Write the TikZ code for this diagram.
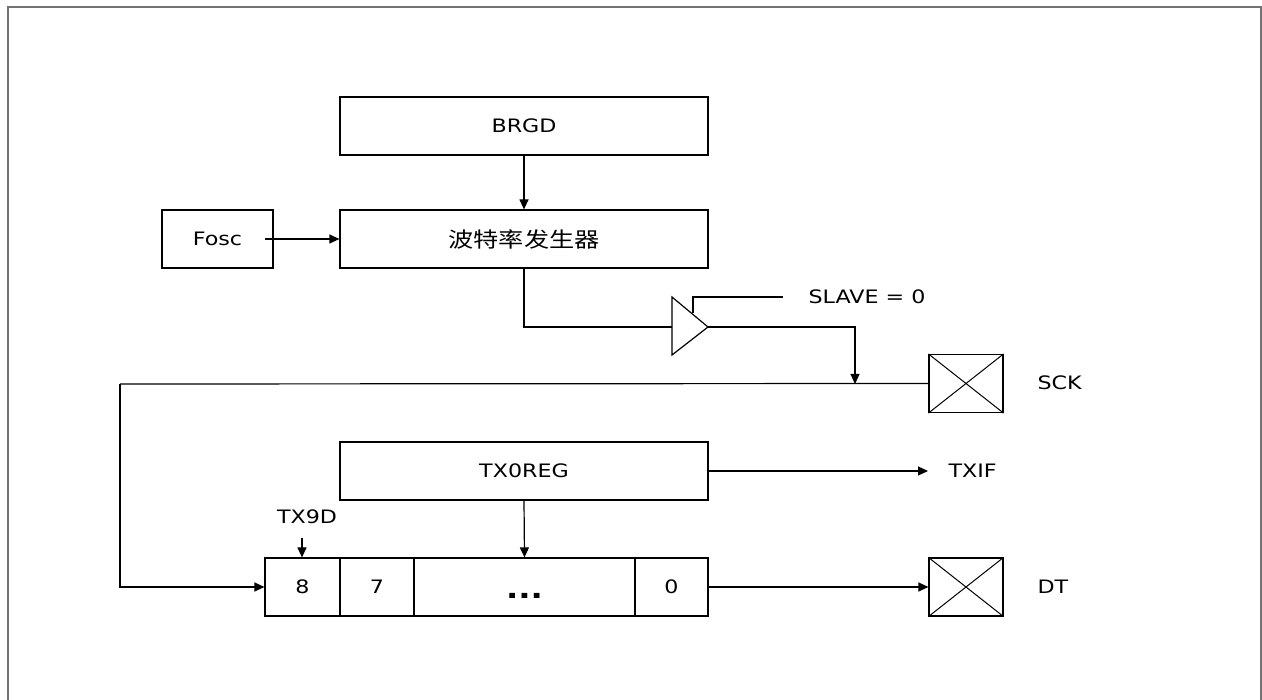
\documentclass[tikz,border=0pt]{standalone}
\usepackage{fontspec}
\setmainfont{DejaVu Sans}[FakeStretch=1.2]
\newfontfamily\cjk{Noto Sans CJK SC}[FakeStretch=1.2]
\usetikzlibrary{arrows.meta}
\begin{document}
\begin{tikzpicture}[x=1pt,y=-1pt,
  line width=1.2pt,
  blk/.style={draw,rectangle,inner sep=0pt,minimum height=58pt,font=\fontsize{18.5}{20}\selectfont},
  lbl/.style={inner sep=0pt,font=\fontsize{18.5}{20}\selectfont},
  arr/.style={-{Triangle[length=10pt,width=9pt]}},
  pad/.style={draw,rectangle,inner sep=0pt,minimum width=74pt,minimum height=58pt},
  frame/.style={draw=black!55,line width=2pt}]
\useasboundingbox (0,0) rectangle (1262,700);
\draw[frame] (8,700) -- (8,7) -- (1261,7) -- (1261,700);
% blocks
\node[blk,minimum width=368pt] (brgd) at (524,126) {BRGD};
\node[blk,minimum width=368pt] (gen) at (524,239) {\cjk\fontsize{21}{24}\selectfont 波特率发生器};
\node[blk,minimum width=111pt] (fosc) at (217.5,239) {Fosc};
\node[blk,minimum width=368pt] (txreg) at (524,471) {TX0REG};
% register cells
\node[blk,minimum width=75pt] (c8) at (302.5,587) {8};
\node[blk,minimum width=74pt] (c7) at (377,587) {7};
\node[blk,minimum width=221pt] (cd) at (524.5,587) {\raisebox{-11pt}[0pt][0pt]{\fontsize{27}{27}\selectfont\bfseries ...}};
\node[blk,minimum width=73pt] (c0) at (671.5,587) {0};
% pads
\node[pad] (sck) at (966,383.5) {};
\draw[line width=1pt] (sck.north west) -- (sck.south east) (sck.south west) -- (sck.north east);
\node[pad] (dt) at (966,587) {};
\draw[line width=1pt] (dt.north west) -- (dt.south east) (dt.south west) -- (dt.north east);
% labels
\node[lbl,anchor=west] (sckl) at (1037,383) {SCK};
\node[lbl,anchor=west] (dtl) at (1037,587) {DT};
\node[lbl,anchor=west] (txif) at (948,471) {TXIF};
\node[lbl,anchor=west] (slave) at (808,297) {SLAVE = 0};
\node[lbl] (tx9d) at (307,517) {TX9D};
% buffer
\coordinate (bufin) at (672,327);
\coordinate (bufout) at (708,327);
\coordinate (en) at (693,313);
\draw (672,297) -- (bufout) -- (672,355) -- cycle;
\draw (en) -- (693,297) -- (783,297);
% connections
\draw[arr] (brgd.south) -- (gen.north);
\draw[arr] (265,239) -- (gen.west);
\draw (gen.south) |- (bufin);
\coordinate (sckj) at (855,384);
\draw[arr] (bufout) -| (sckj);
\coordinate (lc) at (120,384);
\draw (sck.west) -- (lc);
\draw[arr] (lc) |- (c8.west);
\draw[arr] (txreg.south) -- (cd.north);
\coordinate (txe) at (928,471);
\draw[arr] (txreg.east) -- (txe);
\coordinate (t9) at (302,538);
\draw[arr] (t9) -- (t9 |- c8.north);
\draw[arr] (c0.east) -- (dt.west);
\end{tikzpicture}
\end{document}
